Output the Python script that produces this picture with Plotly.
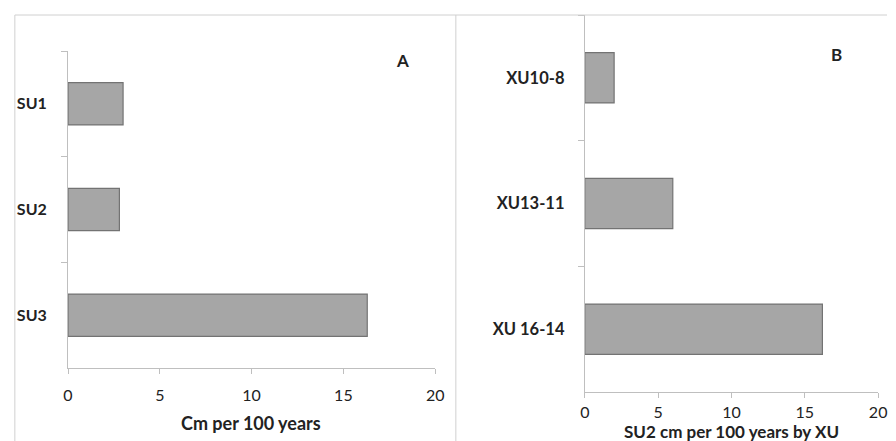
import plotly.graph_objects as go

# Data
cats_a = ["SU1", "SU2", "SU3"]
vals_a = [3.0, 2.8, 16.3]
cats_b = ["XU10-8", "XU13-11", "XU 16-14"]
vals_b = [2.0, 6.0, 16.2]
x_ticks = [0, 5, 10, 15, 20]

W, H = 896, 441
def px(x): return x / W
def py(y): return 1 - y / H

FONT = "Lato, Open Sans, sans-serif"
BAR = "#a6a6a6"
EDGE = "#737373"
AX = "#bfbfbf"

fig = go.Figure()
fig.add_trace(go.Bar(x=vals_a, y=cats_a, orientation="h", xaxis="x", yaxis="y",
                     marker=dict(color=BAR, line=dict(color=EDGE, width=1.2)), width=0.4))
fig.add_trace(go.Bar(x=vals_b, y=cats_b, orientation="h", xaxis="x2", yaxis="y2",
                     marker=dict(color=BAR, line=dict(color=EDGE, width=1.2)), width=0.4))

xcommon = dict(range=[0, 20], tickvals=x_ticks, ticks="outside", ticklen=5, tickcolor=AX,
               showline=True, linecolor=AX, linewidth=1, showgrid=False, zeroline=False,
               tickfont=dict(family=FONT, size=16, color="#222"), fixedrange=True)
ycommon = dict(autorange="reversed", ticks="outside", ticklen=6, tickcolor=AX, tickson="boundaries",
               showline=True, linecolor=AX, linewidth=1, showgrid=False)

fig.update_layout(
    width=W, height=H, margin=dict(l=0, r=0, t=0, b=0),
    paper_bgcolor="white", plot_bgcolor="white", showlegend=False,
    xaxis=dict(domain=[px(64), px(437)], anchor="y", ticklabelstandoff=8, **xcommon),
    yaxis=dict(domain=[py(368), py(51)], anchor="x", ticklabelstandoff=17,
               tickfont=dict(family=FONT, size=16, color="#222", weight="bold"), **ycommon),
    xaxis2=dict(domain=[px(589), px(887)], anchor="y2", ticklabelstandoff=1, **xcommon),
    yaxis2=dict(domain=[py(392), py(15)], anchor="x2", ticklabelstandoff=16,
                tickfont=dict(family=FONT, size=16.5, color="#222", weight="bold"), **ycommon),
)

lc = dict(color="#d0d0d0", width=1)
fig.add_shape(type="line", xref="paper", yref="paper", x0=px(10), x1=1.0, y0=py(15), y1=py(15), line=lc)
fig.add_shape(type="line", xref="paper", yref="paper", x0=px(10), x1=px(10), y0=py(15), y1=0, line=lc)
fig.add_shape(type="line", xref="paper", yref="paper", x0=px(458), x1=px(458), y0=py(15), y1=0, line=lc)

def label(x, y, text, size):
    fig.add_annotation(xref="paper", yref="paper", x=px(x), y=py(y), text=text,
                       xanchor="center", yanchor="middle", showarrow=False,
                       font=dict(family=FONT, size=size, color="#222", weight="bold"))

label(250, 423, "Cm per 100 years", 18)
label(738, 431, "SU2 cm per 100 years by XU", 17)
label(404, 61, "A", 17)
label(845, 55, "B", 17)

fig.write_html("out.html", config={"displayModeBar": False},
               post_script="document.body.style.margin='0';")
